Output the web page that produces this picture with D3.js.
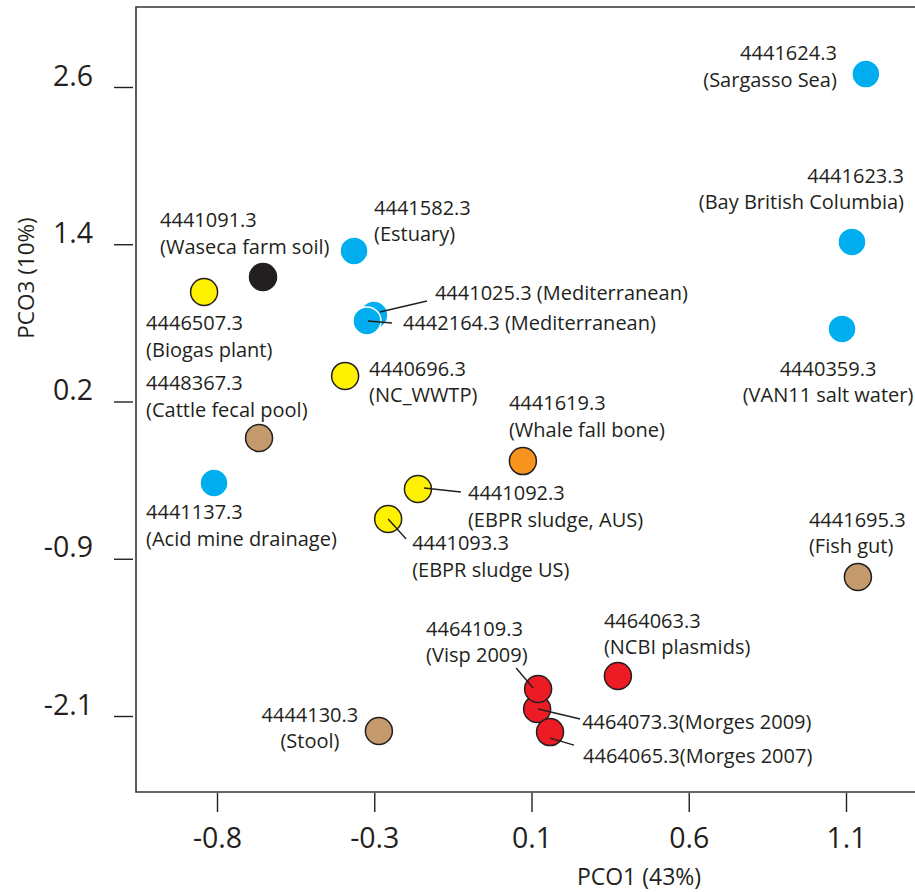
<!DOCTYPE html>
<html>
<head>
<meta charset="utf-8">
<script src="https://cdn.jsdelivr.net/npm/d3@7"></script>
<style>
  body { margin: 0; background: #fff; }
  svg { display: block; font-family: "Open Sans", "Noto Sans", sans-serif; }
  .lbl { font-size: 20px; fill: #231F20; }
  .tick text { font-size: 28.5px; fill: #231F20; font-family: "Open Sans", "Noto Sans", sans-serif; }
  .tick line { stroke: #231F20; stroke-width: 1.4; }
</style>
</head>
<body>
<div id="chart"></div>
<script>
// sample ids, habitats, PCO scores, habitat group
var ids = ["4441624.3", "4441623.3", "4440359.3", "4441582.3", "4441025.3", "4442164.3",
           "4441091.3", "4446507.3", "4440696.3", "4448367.3", "4441137.3", "4441619.3",
           "4441092.3", "4441093.3", "4441695.3", "4444130.3", "4464063.3", "4464073.3",
           "4464109.3", "4464065.3"]
var names = ["Sargasso Sea", "Bay British Columbia", "VAN11 salt water", "Estuary", "Mediterranean", "Mediterranean",
             "Waseca farm soil", "Biogas plant", "NC_WWTP", "Cattle fecal pool", "Acid mine drainage", "Whale fall bone",
             "EBPR sludge, AUS", "EBPR sludge US", "Fish gut", "Stool", "NCBI plasmids", "Morges 2009",
             "Visp 2009", "Morges 2007"]
var pco1 = [1.160, 1.118, 1.088, -0.386, -0.326, -0.347,
            -0.661, -0.839, -0.413, -0.673, -0.809, 0.124,
            -0.193, -0.283, 1.136, -0.311, 0.411, 0.167,
            0.170, 0.206]
var pco3 = [2.697, 1.442, 0.792, 1.375, 0.896, 0.852,
            1.180, 1.068, 0.441, -0.023, -0.359, -0.195,
            -0.404, -0.628, -1.061, -2.212, -1.801, -2.048,
            -1.898, -2.220]
var groups = ["water", "water", "water", "water", "water", "water",
              "soil", "sludge", "sludge", "host", "water", "bone",
              "sludge", "sludge", "host", "host", "plasmid", "plasmid",
              "plasmid", "plasmid"]

var xTicks = [-0.8, -0.325, 0.15, 0.625, 1.1]
var xTickLabels = ["-0.8", "-0.3", "0.1", "0.6", "1.1"]
var yTicks = [2.6, 1.425, 0.25, -0.925, -2.1]
var yTickLabels = ["2.6", "1.4", "0.2", "-0.9", "-2.1"]

// label placement, offsets from the point in px: [dx, dy, anchor, oneLine]
var labelPos = [[-29, -14, "end"], [52, -59, "end"], [-14, 47, "middle"], [20, -36, "start"],
                [61, -15, "start", 1], [36, 9, "start", 1],
                [-103, -50, "start"], [-58, 38, "start"], [24, 0, "start"], [-113, -48, "start"],
                [-68, 36, "start"], [-14, -51, "start"], [50, 11, "start"], [24, 31, "start"],
                [-49, -50, "start"], [-69, -9, "middle"], [-14, -48, "start"], [45, 20, "start", 1],
                [-112, -53, "start"], [33, 31, "start", 1]]
// leader lines, offsets from the point: [x1, y1, x2, y2]
var leaders = [null, null, null, null, [6, -3, 53, -14], [1, 0, 25, 2],
               null, null, null, null, null, null, [6, -1, 43, 3], [0, 0, 18, 20],
               null, null, null, [1, 0, 43, 10], [-22, -21, -5, -1], [0, 6, 24, 13]]

var colorGroup = d3.scaleOrdinal()
    .domain(["water", "sludge", "soil", "host", "bone", "plasmid"])
    .range(["#00AEEF", "#FFF200", "#231F20", "#C49A6C", "#F7941D", "#ED1C24"])

var data = ids.map(function(id, i) {
  return {id: id, name: names[i], pc1: pco1[i], pc3: pco3[i], group: groups[i], i: i}
})

var W = 915, H = 892
var x = d3.scaleLinear().domain([-0.8, 1.1]).range([217, 846])
var y = d3.scaleLinear().domain([2.6, -2.1]).range([87, 716])

var svg = d3.select("#chart").append("svg").attr("width", W).attr("height", H)

// frame (open on the right, runs off the page)
svg.append("path")
    .attr("d", "M" + (W + 5) + ",7H136V792H" + (W + 5))
    .attr("fill", "none")
    .attr("stroke", "#333")
    .attr("stroke-width", 1.6)

var xAxis = d3.axisBottom(x).tickValues(xTicks)
    .tickFormat(function(d, i) { return xTickLabels[i] })
    .tickSize(19).tickPadding(16)
var yAxis = d3.axisLeft(y).tickValues(yTicks)
    .tickFormat(function(d, i) { return yTickLabels[i] })
    .tickSize(19).tickPadding(21)

svg.append("g").attr("transform", "translate(0,793)").call(xAxis)
    .call(function(g) { g.select(".domain").remove() })
svg.append("g").attr("transform", "translate(133,0)").call(yAxis)
    .call(function(g) { g.select(".domain").remove() })
    .selectAll("text").attr("dy", -2)

// axis titles
svg.append("text").attr("class", "lbl")
    .attr("x", 639).attr("y", 885).attr("text-anchor", "middle")
    .style("font-size", "23px")
    .text("PCO1 (43%)")
svg.append("text").attr("class", "lbl")
    .attr("transform", "translate(34,278) rotate(-90)").attr("text-anchor", "middle")
    .style("font-size", "22.5px")
    .text("PCO3 (10%)")

// points
svg.selectAll("circle.pt")
  .data(data)
  .enter()
  .append("circle")
    .attr("class", "pt")
    .attr("cx", function(d) { return x(d.pc1) })
    .attr("cy", function(d) { return y(d.pc3) })
    .attr("r", function(d) { return d.group == "water" ? 14 : 13.5 })
    .attr("stroke", function(d) { return d.group == "water" ? "#fff" : "#231F20" })
    .attr("stroke-width", 1.5)
    .style("fill", function(d) { return colorGroup(d.group) })

// leader lines
svg.selectAll("line.leader")
  .data(data.filter(function(d) { return leaders[d.i] }))
  .enter()
  .append("line")
    .attr("class", "leader")
    .attr("x1", function(d) { return x(d.pc1) + leaders[d.i][0] })
    .attr("y1", function(d) { return y(d.pc3) + leaders[d.i][1] })
    .attr("x2", function(d) { return x(d.pc1) + leaders[d.i][2] })
    .attr("y2", function(d) { return y(d.pc3) + leaders[d.i][3] })
    .attr("stroke", "#231F20")
    .attr("stroke-width", 1.4)

// labels
var labels = svg.selectAll("text.pt-label")
  .data(data)
  .enter()
  .append("text")
    .attr("class", "lbl pt-label")
    .attr("text-anchor", function(d) { return labelPos[d.i][2] })
    .attr("transform", function(d) {
      return "translate(" + (x(d.pc1) + labelPos[d.i][0]) + "," + (y(d.pc3) + labelPos[d.i][1]) + ")"
    })

labels.each(function(d) {
  var t = d3.select(this)
  if (labelPos[d.i][3]) {
    var sep = (d.name == "Mediterranean") ? " (" : "("
    t.append("tspan").attr("x", 0).attr("y", 0).text(d.id + sep + d.name + ")")
  } else {
    t.append("tspan").attr("x", 0).attr("y", 0).text(d.id)
    t.append("tspan").attr("x", 0).attr("y", 26.5).text("(" + d.name + ")")
  }
})
</script>
</body>
</html>
